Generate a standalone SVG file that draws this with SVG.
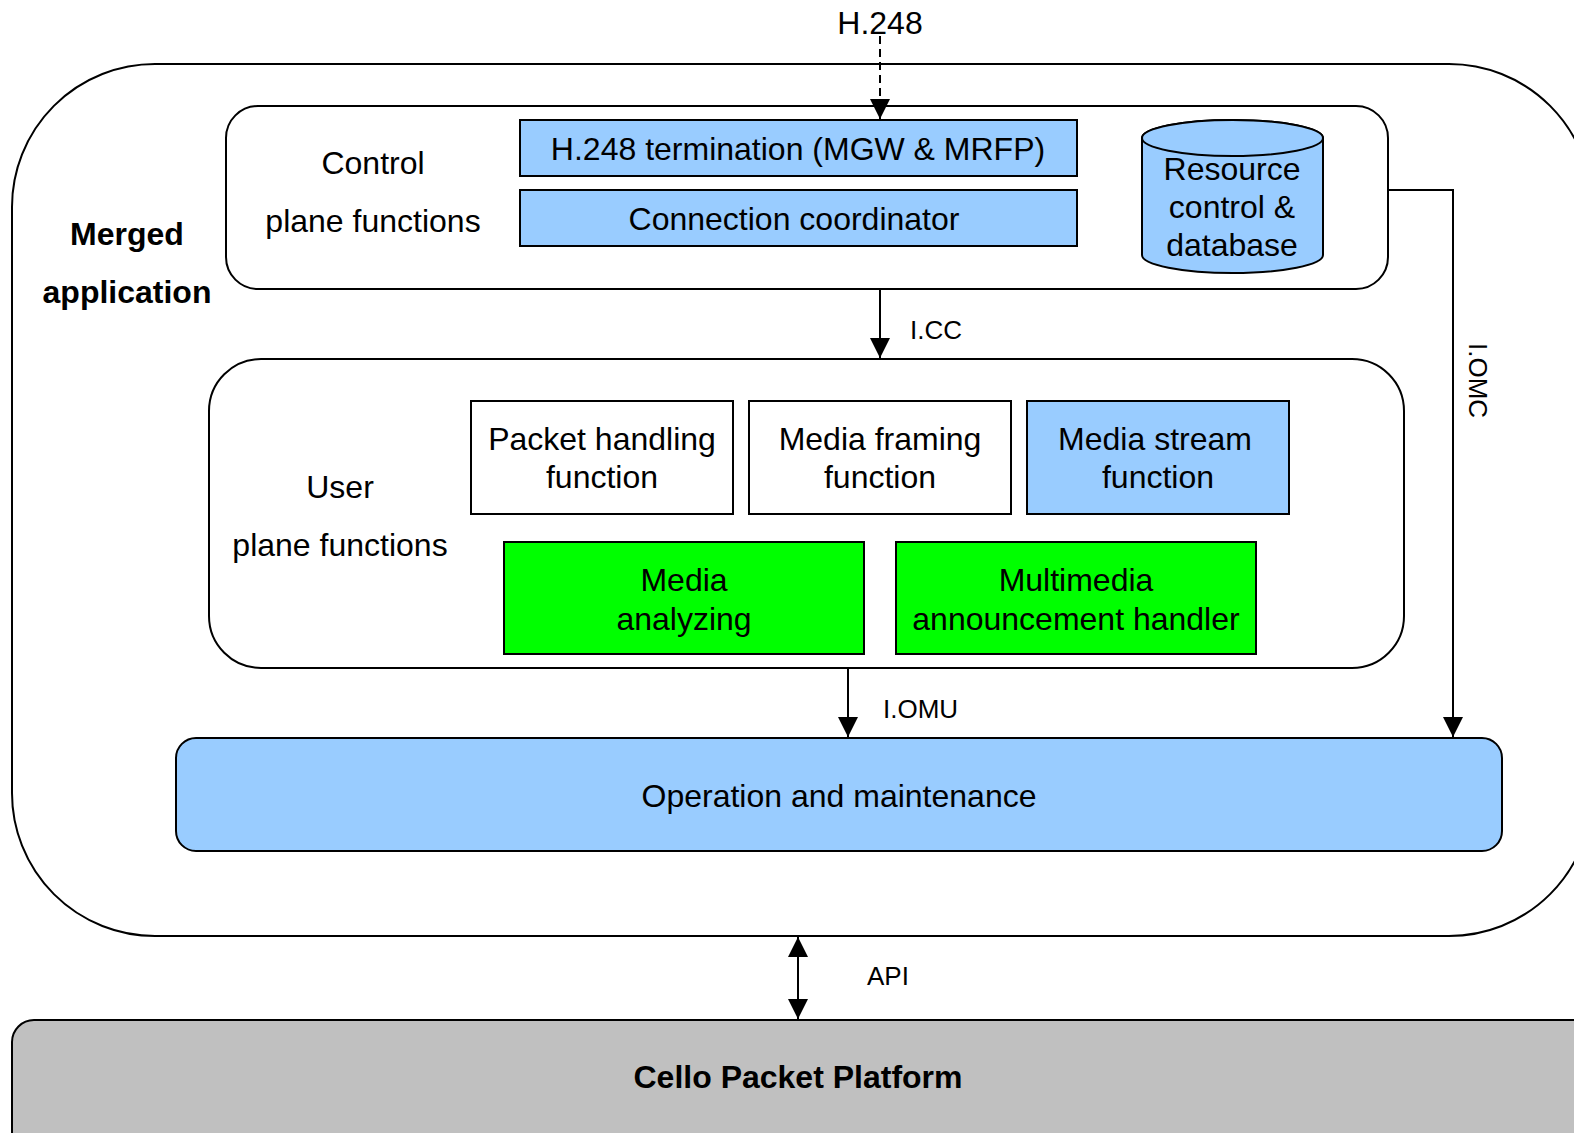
<svg xmlns="http://www.w3.org/2000/svg" width="1574" height="1133" viewBox="0 0 1574 1133">
  <defs>
    <marker id="arrow" viewBox="0 0 20 20" refX="20" refY="10" markerWidth="20" markerHeight="20" markerUnits="userSpaceOnUse" orient="auto">
      <path d="M0,0 L20,10 L0,20 Z" fill="#000"/>
    </marker>
    <marker id="arrowStart" viewBox="0 0 20 20" refX="0" refY="10" markerWidth="20" markerHeight="20" markerUnits="userSpaceOnUse" orient="auto">
      <path d="M20,0 L0,10 L20,20 Z" fill="#000"/>
    </marker>
    <style>
      .frame { fill: #fff; stroke: #000; stroke-width: 2; }
      .box { stroke: #000; stroke-width: 2; }
      .blue { fill: #99CCFF; }
      .white { fill: #fff; }
      .green { fill: #00FF00; }
      .grey { fill: #C0C0C0; }
      .t { font-family: "Liberation Sans", Arial, sans-serif; font-size: 32px; fill: #000; text-anchor: middle; }
      .b { font-weight: bold; }
      .small { font-family: "Liberation Sans", Arial, sans-serif; font-size: 26px; fill: #000; }
      .conn { stroke: #000; stroke-width: 2; fill: none; }
    </style>
  </defs>
  <rect width="1574" height="1133" fill="#fff"/>

  <!-- outer application frame -->
  <g id="merged-application">
    <rect class="frame" x="12" y="64" width="1580" height="872" rx="143" ry="143"/>
    <text class="t b" x="127" y="245">Merged</text>
    <text class="t b" x="127" y="303">application</text>
  </g>

  <!-- control plane -->
  <g id="control-plane">
    <rect class="frame" x="226" y="106" width="1162" height="183" rx="32" ry="32"/>
    <text class="t" x="373" y="174">Control</text>
    <text class="t" x="373" y="232">plane functions</text>
  </g>
  <g id="h248-termination">
    <rect class="box blue" x="520" y="120" width="557" height="56"/>
    <text class="t" x="798" y="160">H.248 termination (MGW &amp; MRFP)</text>
  </g>
  <g id="connection-coordinator">
    <rect class="box blue" x="520" y="190" width="557" height="56"/>
    <text class="t" x="794" y="230">Connection coordinator</text>
  </g>
  <g id="resource-control">
    <path class="box blue" d="M1142,138 L1142,255 A90.5,18 0 0 0 1323,255 L1323,138 A90.5,18 0 0 0 1142,138 Z"/>
    <ellipse class="box blue" cx="1232.5" cy="138" rx="90.5" ry="18"/>
    <text class="t" x="1232" y="180">Resource</text>
    <text class="t" x="1232" y="218">control &amp;</text>
    <text class="t" x="1232" y="256">database</text>
  </g>

  <!-- user plane -->
  <g id="user-plane">
    <rect class="frame" x="209" y="359" width="1195" height="309" rx="52" ry="52"/>
    <text class="t" x="340" y="498">User</text>
    <text class="t" x="340" y="556">plane functions</text>
  </g>
  <g id="packet-handling">
    <rect class="box white" x="471" y="401" width="262" height="113"/>
    <text class="t" x="602" y="450">Packet handling</text>
    <text class="t" x="602" y="488">function</text>
  </g>
  <g id="media-framing">
    <rect class="box white" x="749" y="401" width="262" height="113"/>
    <text class="t" x="880" y="450">Media framing</text>
    <text class="t" x="880" y="488">function</text>
  </g>
  <g id="media-stream">
    <rect class="box blue" x="1027" y="401" width="262" height="113"/>
    <text class="t" x="1155" y="450">Media stream</text>
    <text class="t" x="1158" y="488">function</text>
  </g>
  <g id="media-analyzing">
    <rect class="box green" x="504" y="542" width="360" height="112"/>
    <text class="t" x="684" y="591">Media</text>
    <text class="t" x="684" y="630">analyzing</text>
  </g>
  <g id="multimedia-announcement">
    <rect class="box green" x="896" y="542" width="360" height="112"/>
    <text class="t" x="1076" y="591">Multimedia</text>
    <text class="t" x="1076" y="630">announcement handler</text>
  </g>

  <!-- operation and maintenance -->
  <g id="operation-maintenance">
    <rect class="box blue" x="176" y="738" width="1326" height="113" rx="20" ry="20"/>
    <text class="t" x="839" y="807">Operation and maintenance</text>
  </g>

  <!-- platform -->
  <g id="cello-platform">
    <rect class="box grey" x="12" y="1020" width="1590" height="140" rx="22" ry="22"/>
    <text class="t b" x="798" y="1088">Cello Packet Platform</text>
  </g>

  <!-- interfaces -->
  <g id="connectors">
    <line class="conn" x1="880" y1="36" x2="880" y2="119" stroke-dasharray="8,5" marker-end="url(#arrow)"/>
    <line class="conn" x1="880" y1="289" x2="880" y2="358" marker-end="url(#arrow)"/>
    <polyline class="conn" points="1388,190 1453,190 1453,737" marker-end="url(#arrow)"/>
    <line class="conn" x1="848" y1="668" x2="848" y2="737" marker-end="url(#arrow)"/>
    <line class="conn" x1="798" y1="937" x2="798" y2="1019" marker-start="url(#arrowStart)" marker-end="url(#arrow)"/>
  </g>

  <g id="labels">
    <text class="t" x="880" y="34">H.248</text>
    <text class="small" x="910" y="339">I.CC</text>
    <text class="small" x="883" y="718">I.OMU</text>
    <text class="small" x="867" y="985">API</text>
    <text class="small" transform="translate(1469,343) rotate(90)">I.OMC</text>
  </g>
</svg>
